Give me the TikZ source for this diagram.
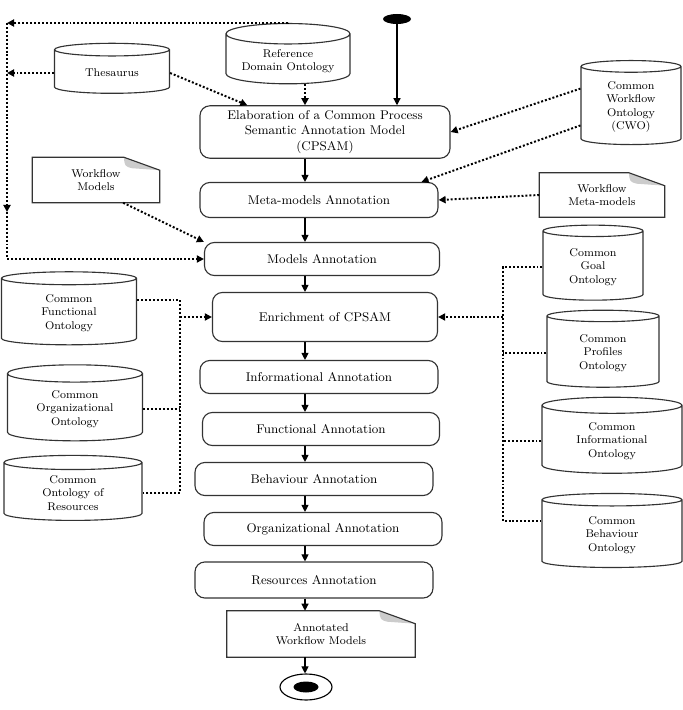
\documentclass[tikz,border=0pt]{standalone}
\usetikzlibrary{shapes.geometric,arrows.meta,calc}

\begin{document}
\begin{tikzpicture}[
        x=0.025cm, y=-0.025cm,
        font=\small,
        task/.style={rectangle, draw=black!80, thick, rounded corners=7pt, align=center},
        onto/.style={cylinder, shape border rotate=90, aspect=0.2, draw=black!80, thick, align=center, font=\footnotesize},
        doc/.style={rectangle, align=center, font=\footnotesize},
        flow/.style={-{Triangle[length=5pt,width=5pt]}, thick},
        link/.style={-{Triangle[length=5pt,width=5pt]}, line width=1.4pt, dash pattern=on 1.4pt off 1.4pt},
        dotline/.style={line width=1.4pt, dash pattern=on 1.4pt off 1.4pt}
    ]
        \useasboundingbox (0,0) rectangle (683,710);

        % start and end
        \node[ellipse, fill=black, minimum width=0.7cm, minimum height=0.25cm, inner sep=0] (start) at (397,19) {};
        \node[ellipse, draw, thick, minimum width=1.3cm, minimum height=0.65cm] (stop) at (306,687) {};
        \node[ellipse, fill=black, minimum width=0.625cm, minimum height=0.275cm, inner sep=0] (stopdot) at (stop) {};

        % ontologies
        \node[onto, minimum width=3.1cm, minimum height=1.5cm] (refdom) at (288,61) {Reference\\Domain Ontology};
        \node[onto, minimum width=2.875cm, minimum height=1.25cm] (thes) at (112,73) {Thesaurus};
        \node[onto, minimum width=2.5cm, minimum height=2.1cm] (cwo) at (631,107) {Common\\Workflow\\Ontology\\(CWO)};
        \node[onto, minimum width=3.375cm, minimum height=1.825cm] (funconto) at (69,313) {Common\\Functional\\Ontology};
        \node[onto, minimum width=3.375cm, minimum height=1.9cm] (orgonto) at (75,409) {Common\\Organizational\\Ontology};
        \node[onto, minimum width=3.45cm, minimum height=1.625cm] (resonto) at (73,493) {Common\\Ontology of\\Resources};
        \node[onto, minimum width=2.5cm, minimum height=1.875cm] (goal) at (593,267) {Common\\Goal\\Ontology};
        \node[onto, minimum width=2.8cm, minimum height=1.925cm] (profiles) at (603,353) {Common\\Profiles\\Ontology};
        \node[onto, minimum width=3.5cm, minimum height=1.9cm] (infonto) at (612,441) {Common\\Informational\\Ontology};
        \node[onto, minimum width=3.5cm, minimum height=1.85cm] (behonto) at (612,535) {Common\\Behaviour\\Ontology};

        % documents
        \node[doc, minimum width=3.175cm, minimum height=1.125cm] (wfmodels) at (96,180) {Workflow\\Models};
        \node[doc, minimum width=3.125cm, minimum height=1.1cm] (wfmeta) at (602,195) {Workflow\\Meta-models};
        \node[doc, minimum width=4.7cm, minimum height=1.15cm] (annwf) at (321,634) {Annotated\\Workflow Models};

        % annotation steps
        \node[task, minimum width=6.25cm, minimum height=1.25cm] (cpsam) at (325,132) {Elaboration of a Common Process\\Semantic Annotation Model\\(CPSAM)};
        \node[task, minimum width=5.95cm, minimum height=0.875cm] (metaann) at (319,200) {Meta-models Annotation};
        \node[task, minimum width=5.875cm, minimum height=0.825cm] (modelsann) at (322,259) {Models Annotation};
        \node[task, minimum width=5.625cm, minimum height=1.225cm] (enrich) at (325,317) {Enrichment of CPSAM};
        \node[task, minimum width=5.95cm, minimum height=0.825cm] (infoann) at (319,377) {Informational Annotation};
        \node[task, minimum width=5.925cm, minimum height=0.825cm] (funcann) at (321,429) {Functional Annotation};
        \node[task, minimum width=5.95cm, minimum height=0.825cm] (behann) at (314,479) {Behaviour Annotation};
        \node[task, minimum width=5.95cm, minimum height=0.825cm] (organn) at (323,529) {Organizational Annotation};
        \node[task, minimum width=5.95cm, minimum height=0.9cm] (resann) at (314,580) {Resources Annotation};

        % document outlines with folded corner
        \foreach \d in {wfmodels, wfmeta, annwf} {
            \fill[gray!40] ($(\d.north east)+(-36,0)$) .. controls ($(\d.north east)+(-35,9)$) .. ($(\d.north east)+(-28,11)$) -- ($(\d.north east)+(0,13)$) -- cycle;
            \draw[thick, draw=black!80] ($(\d.north east)+(-36,0)$) -- (\d.north west) -- (\d.south west) -- (\d.south east) -- ($(\d.north east)+(0,13)$) -- cycle;
        }

        \coordinate (spine) at (305,0);
        \coordinate (corner) at (7,23);
        \coordinate (lmid) at (7,212);
        \coordinate (lbus) at (180,0);
        \coordinate (rbus) at (503,0);

        % main flow
        \draw[flow] (start.south) -- (cpsam.north -| start);
        \foreach \a/\b in {cpsam/metaann, metaann/modelsann, modelsann/enrich, enrich/infoann, infoann/funcann, funcann/behann, behann/organn, organn/resann, resann/annwf, annwf/stop}
            \draw[flow] (\a.south -| spine) -- (\b.north -| spine);

        % inputs
        \draw[link] (refdom.north) |- (corner);
        \draw[link] (corner) -- (lmid);
        \draw[link] (lmid) |- (modelsann.west);
        \draw[link] (thes.west) -- (thes.west -| corner);
        \draw[link] (thes.east) -- (cpsam.161.6);
        \draw[link] (refdom.south -| spine) -- (cpsam.north -| spine);
        \draw[link] (cwo.160) -- (cpsam.east);
        \draw[link] (cwo.200) -- (metaann.10.5);
        \draw[link] (wfmeta.west) -- (metaann.east);
        \draw[link] (wfmodels.-40) -- (modelsann.north west);

        % ontologies to enrichment
        \draw[dotline] (funconto.11) -| (resonto.east -| lbus) -- (resonto.east);
        \draw[dotline] (orgonto.east) -- (orgonto.east -| lbus);
        \draw[link] (enrich.west -| lbus) -- (enrich.west);
        \draw[dotline] (goal.west) -| (behonto.169.5 -| rbus) -- (behonto.169.5);
        \draw[dotline] (profiles.west) -- (profiles.west -| rbus);
        \draw[dotline] (infonto.west) -- (infonto.west -| rbus);
        \draw[link] (enrich.east -| rbus) -- (enrich.east);
    \end{tikzpicture}
\end{document}
